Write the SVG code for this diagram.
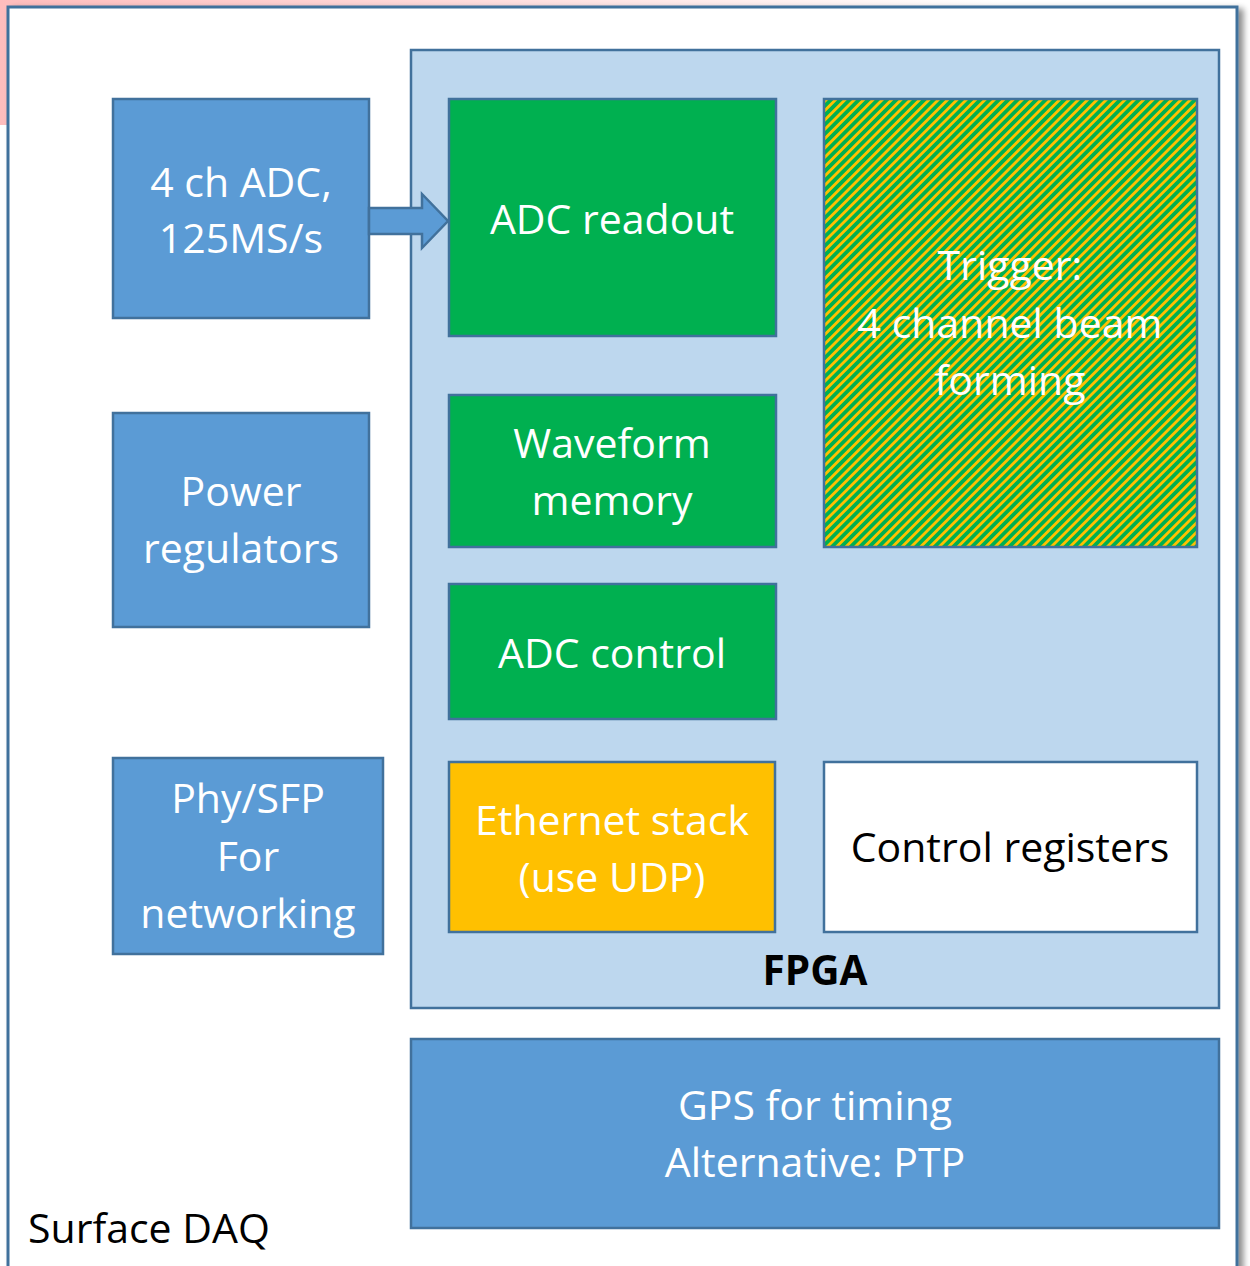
<svg xmlns="http://www.w3.org/2000/svg" width="1250" height="1266" viewBox="0 0 1250 1266">
  <defs>
    <linearGradient id="pinkGrad" x1="0" y1="0" x2="1" y2="0">
      <stop offset="0" stop-color="#FFBDBD"/>
      <stop offset="0.8" stop-color="#FFFFFF"/>
    </linearGradient>
    <pattern id="hatch" patternUnits="userSpaceOnUse" width="6.6" height="10" patternTransform="rotate(45)">
      <rect x="0" y="0" width="6.6" height="10" fill="#00B050"/>
      <rect x="0" y="0" width="2.7" height="10" fill="#FFC000" shape-rendering="crispEdges"/>
    </pattern>
    <filter id="shadow" x="-5%" y="-5%" width="110%" height="110%">
      <feGaussianBlur in="SourceAlpha" stdDeviation="3"/>
      <feOffset dx="5" dy="3" result="b"/>
      <feComponentTransfer><feFuncA type="linear" slope="0.45"/></feComponentTransfer>
      <feMerge><feMergeNode/><feMergeNode in="SourceGraphic"/></feMerge>
    </filter>
    <style>
      .box { stroke: #41719C; stroke-width: 2.5; }
      .blue { fill: #5B9BD5; }
      .green { fill: #00B050; }
      .t { font-family: "Open Sans", "Noto Sans", sans-serif; font-size: 41px; text-anchor: middle; fill: #FFFFFF; }
      .dark { fill: #000000; }
    </style>
  </defs>

  <rect x="0" y="0" width="1250" height="125" fill="url(#pinkGrad)"/>

  <g id="surface-daq">
    <rect x="8" y="7" width="1229" height="1270" fill="#FFFFFF" stroke="#41719C" stroke-width="3" filter="url(#shadow)"/>
    <text class="t dark" x="28" y="1243" style="text-anchor:start">Surface DAQ</text>
  </g>

  <g id="fpga">
    <rect x="411" y="50" width="808" height="958" fill="#BDD7EE" class="box"/>
    <text x="815" y="985" style="font-family:'Open Sans','Noto Sans',sans-serif;font-size:40.5px;font-weight:bold;text-anchor:middle" fill="#000000">FPGA</text>
  </g>

  <g id="adc">
    <rect x="113" y="99" width="256" height="219" class="box blue"/>
    <text class="t" x="241" y="197">4 ch ADC,</text>
    <text class="t" x="241" y="253">125MS/s</text>
  </g>

  <g id="power">
    <rect x="113" y="413" width="256" height="214" class="box blue"/>
    <text class="t" x="241" y="506">Power</text>
    <text class="t" x="241" y="563">regulators</text>
  </g>

  <g id="phy">
    <rect x="113" y="758" width="270" height="196" class="box blue"/>
    <text class="t" x="248" y="813">Phy/SFP</text>
    <text class="t" x="248" y="871">For</text>
    <text class="t" x="248" y="928">networking</text>
  </g>

  <g id="adc-readout">
    <rect x="449" y="99" width="327" height="237" class="box green"/>
    <text class="t" x="612" y="234">ADC readout</text>
  </g>

  <g id="waveform">
    <rect x="449" y="395" width="327" height="152" class="box green"/>
    <text class="t" x="612" y="458">Waveform</text>
    <text class="t" x="612" y="515">memory</text>
  </g>

  <g id="adc-control">
    <rect x="449" y="584" width="327" height="135" class="box green"/>
    <text class="t" x="612" y="668">ADC control</text>
  </g>

  <g id="ethernet">
    <rect x="449" y="762" width="326" height="170" fill="#FFC000" class="box"/>
    <text class="t" x="612" y="835">Ethernet stack</text>
    <text class="t" x="612" y="892">(use UDP)</text>
  </g>

  <g id="trigger">
    <rect x="824" y="99" width="373" height="448" fill="url(#hatch)" class="box"/>
    <text class="t" x="1010" y="280">Trigger:</text>
    <text class="t" x="1010" y="338">4 channel beam</text>
    <text class="t" x="1010" y="395">forming</text>
  </g>

  <g id="control-registers">
    <rect x="824" y="762" width="373" height="170" fill="#FFFFFF" class="box"/>
    <text class="t dark" x="1010" y="862">Control registers</text>
  </g>

  <g id="gps">
    <rect x="411" y="1039" width="808" height="189" class="box blue"/>
    <text class="t" x="815" y="1120">GPS for timing</text>
    <text class="t" x="815" y="1177">Alternative: PTP</text>
  </g>

  <g id="connectors">
    <polygon points="369,208 422,208 422,194 448,221 422,248 422,234 369,234" fill="#5B9BD5" stroke="#41719C" stroke-width="2.5" stroke-linejoin="miter"/>
  </g>
</svg>
